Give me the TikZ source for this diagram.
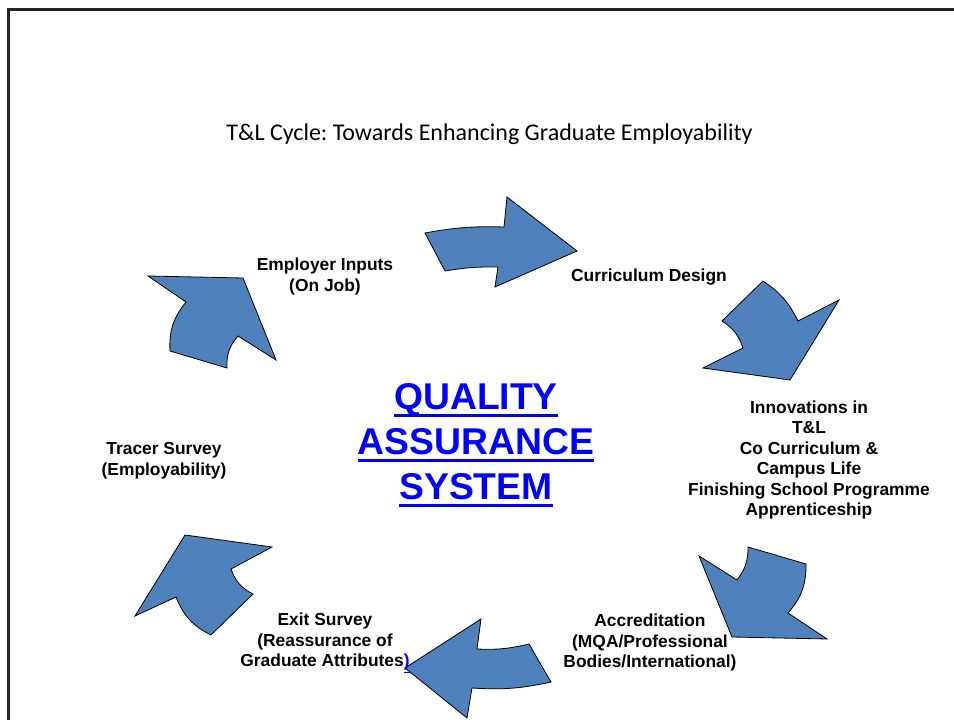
\documentclass[tikz,border=0pt]{standalone}
\usepackage{fontspec}
\setmainfont{Liberation Sans}
\newfontfamily\calibri{Carlito}
\definecolor{arrowblue}{RGB}{79,129,189}
\definecolor{qblue}{RGB}{0,0,255}
\frenchspacing
\begin{document}
\begin{tikzpicture}[x=1pt,y=1pt,
  cyclearrow/.style={fill=arrowblue,draw=black,line width=0.8pt,line join=miter},
  lbl/.style={font=\bfseries\fontsize{17.4}{20.5}\selectfont,align=center,inner sep=0pt},
  qas/.style={font=\bfseries\fontsize{37.3}{44.5}\selectfont,text=qblue,inner sep=0pt,anchor=base},
  qline/.style={draw=qblue,line width=3pt},
  frameline/.style={draw=black!85,line width=2.2pt}]
\useasboundingbox (0,0) rectangle (954,720);
% frame
\coordinate (fr1) at (8.5,0);
\coordinate (fr2) at (8.5,710.5);
\coordinate (fr3) at (954,710.5);
\draw[frameline] (fr1) -- (fr2) -- (fr3);
% title
\node[font=\calibri\fontsize{24}{28}\selectfont,anchor=base,inner sep=0pt] (title) at (489.5,579.3)
  {T\&L Cycle: Towards Enhancing Graduate Employability};
% arrow 1 (top)
\coordinate (a1) at (425,487); \coordinate (a2) at (504,493); \coordinate (a3) at (507,523);
\coordinate (a4) at (577,469); \coordinate (a5) at (495,433); \coordinate (a6) at (498,453);
\coordinate (a7) at (445,449);
\draw[cyclearrow] (a1) to[bend left=6] (a2) -- (a3) -- (a4) -- (a5) -- (a6) to[bend right=5] (a7) -- cycle;
% arrow 2 (upper right)
\coordinate (b1) at (763,439); \coordinate (b2) at (798,399); \coordinate (b3) at (839,420);
\coordinate (b4) at (790,340); \coordinate (b5) at (703,352); \coordinate (b6) at (743,372);
\coordinate (b7) at (722,399);
\draw[cyclearrow] (b1) to[bend left=15] (b2) -- (b3) -- (b4) -- (b5) -- (b6) to[bend right=19] (b7) -- cycle;
% arrow 3 (lower right)
\coordinate (c1) at (699,164); \coordinate (c2) at (737,140); \coordinate (c3) at (748,173);
\coordinate (c4) at (806,156); \coordinate (c5) at (788,107); \coordinate (c6) at (827,81);
\coordinate (c7) at (732,83);
\draw[cyclearrow] (c1) -- (c2) to[bend right=19] (c3) -- (c4) to[bend left=21] (c5) -- (c6) -- (c7) -- cycle;
% arrow 4 (bottom)
\coordinate (d1) at (405,52); \coordinate (d2) at (481,101); \coordinate (d3) at (477,71);
\coordinate (d4) at (529,76); \coordinate (d5) at (551,38); \coordinate (d6) at (472,32);
\coordinate (d7) at (467,2);
\draw[cyclearrow] (d1) -- (d2) -- (d3) to[bend right=8] (d4) -- (d5) to[bend left=8] (d6) -- (d7) -- cycle;
% arrow 5 (lower left)
\coordinate (e1) at (185,185); \coordinate (e2) at (272,173); \coordinate (e3) at (231,151);
\coordinate (e4) at (253,126); \coordinate (e5) at (211,85); \coordinate (e6) at (176,123);
\coordinate (e7) at (135,104);
\draw[cyclearrow] (e1) -- (e2) -- (e3) to[bend right=22] (e4) -- (e5) to[bend left=21] (e6) -- (e7) -- cycle;
% arrow 6 (upper left)
\coordinate (f1) at (148,444); \coordinate (f2) at (243,442); \coordinate (f3) at (276,360);
\coordinate (f4) at (238,384); \coordinate (f5) at (227,352); \coordinate (f6) at (170,369);
\coordinate (f7) at (186,418);
\draw[cyclearrow] (f1) -- (f2) -- (f3) -- (f4) to[bend right=22] (f5) -- (f6) to[bend left=21] (f7) -- cycle;
% labels
\node[lbl] (employer) at (325,443.3) {Employer Inputs\\(On Job)};
\node[lbl] (curriculum) at (649,443.4) {Curriculum Design};
\node[lbl] (innov) at (809,260.2) {Innovations in\\T\&L\\Co Curriculum \&\\Campus Life\\Finishing School Programme\\Apprenticeship};
\node[lbl] (tracer) at (164,259.5) {Tracer Survey\\(Employability)};
\node[lbl] (exit) at (325,77) {Exit Survey\\(Reassurance of\\Graduate Attributes\textcolor{qblue}{\underline{)}}};
\node[lbl] (accred) at (650,77) {Accreditation\\(MQA/Professional\\Bodies/International)};
% centre title
\node[qas] (q1) at (476,310) {QUALITY};
\node[qas] (q2) at (476,265) {ASSURANCE};
\node[qas] (q3) at (476,220) {SYSTEM};
\draw[qline] ([yshift=-5.7pt]q1.base west) -- ([yshift=-5.7pt]q1.base east);
\draw[qline] ([yshift=-5.7pt]q2.base west) -- ([yshift=-5.7pt]q2.base east);
\draw[qline] ([yshift=-5.7pt]q3.base west) -- ([yshift=-5.7pt]q3.base east);
\end{tikzpicture}
\end{document}
